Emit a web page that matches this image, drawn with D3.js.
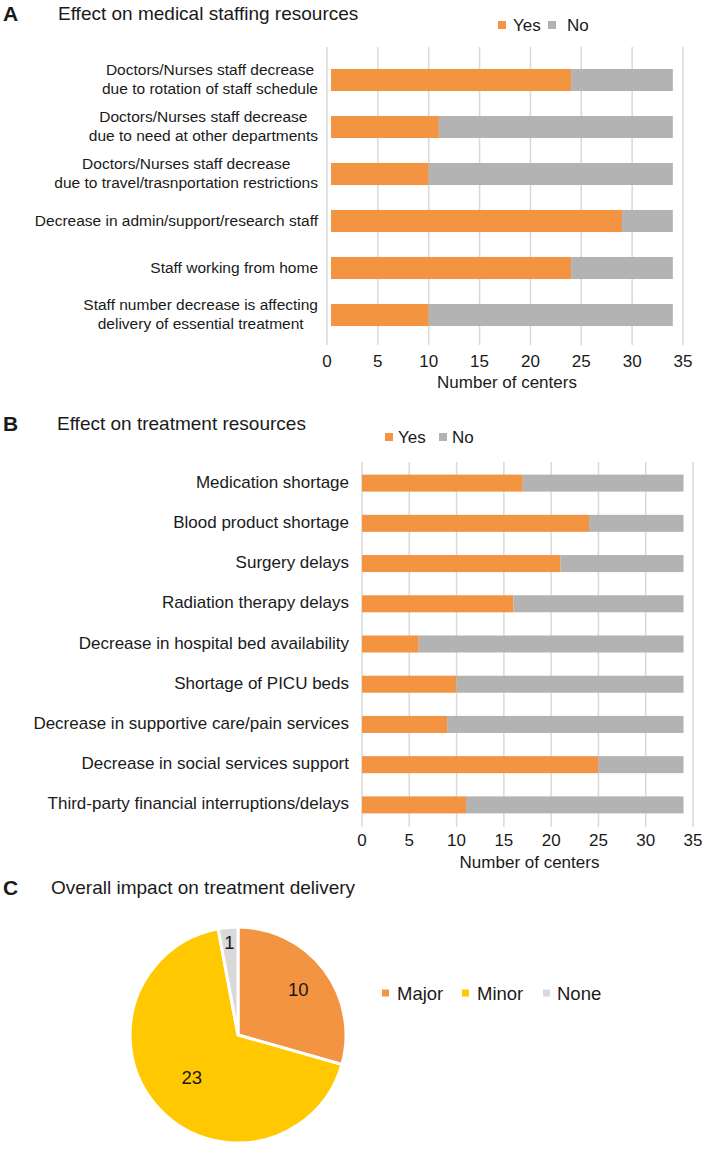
<!DOCTYPE html>
<html>
<head>
<meta charset="utf-8">
<script src="https://cdn.jsdelivr.net/npm/d3@7"></script>
<style>
  html, body { margin: 0; padding: 0; background: #fff; }
  svg { display: block; font-family: "Liberation Sans", Arial, sans-serif; }
</style>
</head>
<body>
<svg id="chart" width="709" height="1149"></svg>
<script>
// ---------- DATA ----------
const staffCategories = [
  "Doctors/Nurses staff decrease\ndue to rotation of staff schedule",
  "Doctors/Nurses staff decrease\ndue to need at other departments",
  "Doctors/Nurses staff decrease\ndue to travel/trasnportation restrictions",
  "Decrease in admin/support/research staff",
  "Staff working from home",
  "Staff number decrease is affecting\ndelivery of essential treatment"
];
const staffYes = [24, 11, 10, 29, 24, 10];
const staffNo  = [10, 23, 24, 5, 10, 24];

const treatCategories = [
  "Medication shortage",
  "Blood product shortage",
  "Surgery delays",
  "Radiation therapy delays",
  "Decrease in hospital bed availability",
  "Shortage of PICU beds",
  "Decrease in supportive care/pain services",
  "Decrease in social services support",
  "Third-party financial interruptions/delays"
];
const treatYes = [17, 24, 21, 16, 6, 10, 9, 25, 11];
const treatNo  = [17, 10, 13, 18, 28, 24, 25, 9, 23];

const xTicks = [0, 5, 10, 15, 20, 25, 30, 35];
const seriesNames = ["Yes", "No"];

const impactLabels = ["Major", "Minor", "None"];
const impactValues = [10, 23, 1];

// ---------- STYLE ----------
const ORANGE = "#F39442";
const GREY = "#B3B3B3";
const GRID = "#D9D9D9";
const TEXT = "#1a1a1a";
const pieColors = ["#F39442", "#FFC800", "#D9D9D9"];

const svg = d3.select("#chart");
svg.append("rect").attr("width", 709).attr("height", 1149).attr("fill", "#fff");

function panelTitle(letter, title, y, tx) {
  svg.append("text").attr("x", 3).attr("y", y).attr("dominant-baseline", "central")
    .attr("font-size", 21).attr("font-weight", "bold").attr("fill", TEXT).text(letter);
  svg.append("text").attr("x", tx).attr("y", y).attr("dominant-baseline", "central")
    .attr("font-size", 19).attr("fill", TEXT).text(title);
}

function legend(items, colors, positions, y, fs, sq) {
  items.forEach((name, i) => {
    const p = positions[i];
    svg.append("rect").attr("x", p[0]).attr("y", y - sq / 2).attr("width", sq).attr("height", sq)
      .attr("fill", colors[i]);
    svg.append("text").attr("x", p[1]).attr("y", y).attr("dominant-baseline", "central")
      .attr("font-size", fs).attr("fill", TEXT).text(name);
  });
}

function barPanel(cfg) {
  const x = d3.scaleLinear().domain([0, 35]).range(cfg.xRange);
  const y = d3.scaleBand().domain(cfg.categories).range(cfg.yRange)
    .paddingInner(cfg.padIn).paddingOuter(cfg.padIn / 2);
  const g = svg.append("g");

  // gridlines
  g.selectAll("line.grid").data(xTicks).join("line")
    .attr("x1", d => x(d)).attr("x2", d => x(d))
    .attr("y1", cfg.gridTop).attr("y2", cfg.gridBottom)
    .attr("stroke", GRID).attr("stroke-width", 1.5);

  // stacked bars
  const rows = cfg.categories.map((c, i) => ({ cat: c, yes: cfg.yes[i], no: cfg.no[i] }));
  const stack = d3.stack().keys(["yes", "no"])(rows);
  const colors = [ORANGE, GREY];
  stack.forEach((layer, li) => {
    g.selectAll(null).data(layer).join("rect")
      .attr("x", d => x(d[0]) + (d[0] === 0 ? cfg.inset : 0))
      .attr("width", d => x(d[1]) - x(d[0]) - (d[0] === 0 ? cfg.inset : 0))
      .attr("y", d => y(d.data.cat))
      .attr("height", y.bandwidth())
      .attr("fill", colors[li]);
  });

  // x tick labels
  g.selectAll("text.tick").data(xTicks).join("text")
    .attr("x", d => x(d)).attr("y", cfg.tickY)
    .attr("text-anchor", "middle").attr("dominant-baseline", "central")
    .attr("font-size", 17).attr("fill", TEXT).text(d => d);

  g.append("text").attr("x", (cfg.xRange[0] + cfg.xRange[1]) / 2 + 2).attr("y", cfg.titleY)
    .attr("text-anchor", "middle").attr("dominant-baseline", "central")
    .attr("font-size", 17).attr("fill", TEXT).text("Number of centers");

  // category labels (multi-line, lines centered in block, block right aligned)
  cfg.categories.forEach(c => {
    const lines = c.split("\n");
    const cy = y(c) + y.bandwidth() / 2;
    const tg = g.append("g");
    const texts = lines.map((ln, i) => tg.append("text")
      .attr("y", cy + (i - (lines.length - 1) / 2) * cfg.lineH + cfg.labelDy)
      .attr("dominant-baseline", "central").attr("text-anchor", "middle")
      .attr("font-size", cfg.labelFs).attr("fill", TEXT).text(ln));
    const maxW = d3.max(texts, t => t.node().getComputedTextLength());
    texts.forEach(t => t.attr("x", cfg.labelRight - maxW / 2));
  });
}

// ---------- PANEL A ----------
panelTitle("A", "Effect on medical staffing resources", 13, 58);
legend(seriesNames, [ORANGE, GREY], [[498, 513], [548, 567]], 25, 17, 8);
barPanel({
  categories: staffCategories, yes: staffYes, no: staffNo,
  xRange: [327, 683], yRange: [56.5, 338.5], padIn: 0.53,
  gridTop: 47, gridBottom: 345, tickY: 361, titleY: 382,
  labelRight: 318, labelFs: 15.5, lineH: 18.4, labelDy: -1, inset: 4
});

// ---------- PANEL B ----------
panelTitle("B", "Effect on treatment resources", 423, 57);
legend(seriesNames, [ORANGE, GREY], [[385, 398], [439, 452]], 437, 17, 8);
barPanel({
  categories: treatCategories, yes: treatYes, no: treatNo,
  xRange: [362, 693], yRange: [463, 825], padIn: 0.577,
  gridTop: 462, gridBottom: 827, tickY: 840, titleY: 862,
  labelRight: 349, labelFs: 17, lineH: 20, labelDy: -1, inset: 0
});

// ---------- PANEL C ----------
panelTitle("C", "Overall impact on treatment delivery", 887, 51);
const cx = 238, cy = 1035, R = 108;
const pie = d3.pie().sort(null).value(d => d)(impactValues);
const arc = d3.arc().innerRadius(0).outerRadius(R);
const labelFactor = [0.70, 0.58, 0.86];
const pg = svg.append("g").attr("transform", `translate(${cx},${cy})`);
pg.selectAll("path").data(pie).join("path")
  .attr("d", arc).attr("fill", (d, i) => pieColors[i])
  .attr("stroke", "#fff").attr("stroke-width", 3).attr("stroke-linejoin", "round");
pg.selectAll("text").data(pie).join("text")
  .attr("transform", (d, i) => {
    const la = d3.arc().innerRadius(R * labelFactor[i]).outerRadius(R * labelFactor[i]);
    const c = la.centroid(d);
    return `translate(${c[0]},${c[1]})`;
  })
  .attr("text-anchor", "middle").attr("dominant-baseline", "central")
  .attr("font-size", 18.5).attr("fill", TEXT).text(d => d.data);

legend(impactLabels, pieColors, [[382, 397], [462, 477], [543, 557]], 993, 18.5, 7);
</script>
</body>
</html>
